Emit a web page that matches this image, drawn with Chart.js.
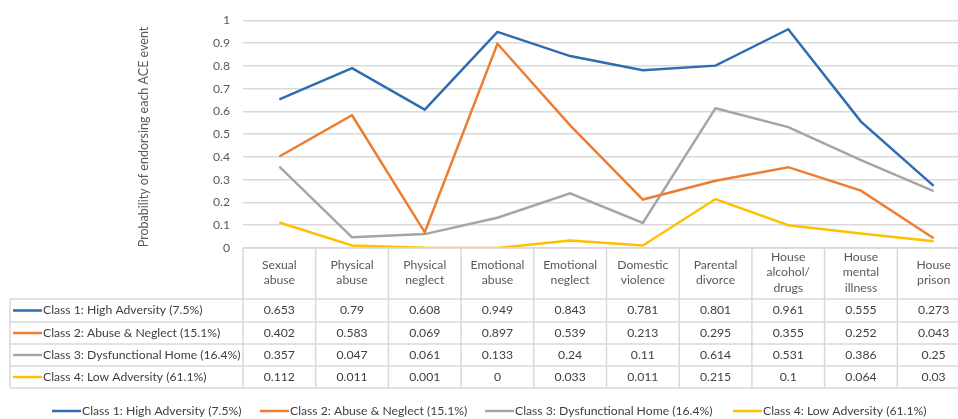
<!DOCTYPE html>
<html lang="en">
<head>
    <meta charset="UTF-8">
    <title>ACE latent classes</title>
    <style>
        * { margin: 0; padding: 0; box-sizing: border-box; }
        html, body { width: 958px; height: 419px; overflow: hidden; background: #fff; }
        #wrap { position: relative; width: 970px; height: 419px; }
        canvas { display: block; }
    </style>
</head>
<body>
    <div id="wrap"><canvas id="chart" width="970" height="419"></canvas></div>

    <script src="https://cdn.jsdelivr.net/npm/chart.js"></script>
    <script>
        // categories (header rows of the table)
        const categories = [
            ['Sexual', 'abuse'], ['Physical', 'abuse'], ['Physical', 'neglect'],
            ['Emotional', 'abuse'], ['Emotional', 'neglect'], ['Domestic', 'violence'],
            ['Parental', 'divorce'], ['House', 'alcohol/', 'drugs'], ['House', 'mental', 'illness'],
            ['House', 'prison']
        ];
        const seriesNames = [
            'Class 1: High Adversity (7.5%)',
            'Class 2: Abuse & Neglect (15.1%)',
            'Class 3: Dysfunctional Home (16.4%)',
            'Class 4: Low Adversity (61.1%)'
        ];
        const class1 = [0.653, 0.79, 0.608, 0.949, 0.843, 0.781, 0.801, 0.961, 0.555, 0.273];
        const class2 = [0.402, 0.583, 0.069, 0.897, 0.539, 0.213, 0.295, 0.355, 0.252, 0.043];
        const class3 = [0.357, 0.047, 0.061, 0.133, 0.24, 0.11, 0.614, 0.531, 0.386, 0.25];
        const class4 = [0.112, 0.011, 0.001, 0, 0.033, 0.011, 0.215, 0.1, 0.064, 0.03];
        const yTicks = [0, 0.1, 0.2, 0.3, 0.4, 0.5, 0.6, 0.7, 0.8, 0.9, 1];
        const colors = ['#2E6DB4', '#ED7D31', '#A5A5A5', '#FFC000'];

        const allSeries = [class1, class2, class3, class4];
        const FONT = 'Lato, "Open Sans", sans-serif';
        const gridColor = '#d9d9d9';

        // data table under the plot + bottom legend
        const tablePlugin = {
            id: 'tablePlugin',
            afterDraw(chart) {
                const ctx = chart.ctx;
                const xs = chart.scales.x;
                const area = chart.chartArea;
                const top = area.bottom;
                const headBottom = 299;
                const rowH = [299, 322, 344, 366, 388];
                const step = xs.getPixelForValue(1) - xs.getPixelForValue(0);
                const left = xs.getPixelForValue(0) - step / 2;
                const right = xs.getPixelForValue(categories.length - 1) + step / 2;
                const tableLeft = 10;

                ctx.save();
                ctx.strokeStyle = gridColor;
                ctx.lineWidth = 1.5;
                ctx.beginPath();
                ctx.moveTo(left, top); ctx.lineTo(right, top);
                rowH.forEach(y => { ctx.moveTo(tableLeft, y); ctx.lineTo(right, y); });
                ctx.moveTo(tableLeft, headBottom); ctx.lineTo(tableLeft, rowH[4]);
                for (let i = 0; i <= categories.length; i++) {
                    const x = left + step * i;
                    ctx.moveTo(x, top); ctx.lineTo(x, rowH[4]);
                }
                ctx.stroke();

                ctx.font = '12.2px ' + FONT;
                ctx.textAlign = 'center';
                ctx.textBaseline = 'middle';
                ctx.fillStyle = '#595959';
                categories.forEach((lines, i) => {
                    const x = xs.getPixelForValue(i);
                    const mid = (top + headBottom) / 2 - 1;
                    const lh = 15.5;
                    lines.forEach((t, j) => {
                        ctx.fillText(t, x, mid + (j - (lines.length - 1) / 2) * lh);
                    });
                });

                allSeries.forEach((vals, r) => {
                    const yc = (rowH[r] + rowH[r + 1]) / 2;
                    ctx.textAlign = 'center';
                    ctx.fillStyle = '#404040';
                    vals.forEach((v, i) => ctx.fillText(String(v), xs.getPixelForValue(i), yc));
                    // legend key in first column
                    ctx.strokeStyle = colors[r];
                    ctx.lineWidth = 2.5;
                    ctx.beginPath();
                    ctx.moveTo(13, yc); ctx.lineTo(42, yc);
                    ctx.stroke();
                    ctx.textAlign = 'left';
                    ctx.fillStyle = '#404040';
                    ctx.fillText(seriesNames[r], 43, yc);
                });

                // bottom legend
                const legendX = [52, 260, 485, 733];
                const ly = 411;
                seriesNames.forEach((name, r) => {
                    ctx.strokeStyle = colors[r];
                    ctx.lineWidth = 2.5;
                    ctx.beginPath();
                    ctx.moveTo(legendX[r], ly); ctx.lineTo(legendX[r] + 29, ly);
                    ctx.stroke();
                    ctx.textAlign = 'left';
                    ctx.fillStyle = '#404040';
                    ctx.fillText(name, legendX[r] + 30, ly);
                });

                // y axis title
                ctx.save();
                ctx.translate(144, 137);
                ctx.rotate(-Math.PI / 2);
                ctx.textAlign = 'center';
                ctx.fillStyle = '#595959';
                ctx.font = '12.5px ' + FONT;
                ctx.fillText('Probability of endorsing each ACE event', 0, 0);
                ctx.restore();
                ctx.restore();
            }
        };

        new Chart(document.getElementById('chart'), {
            type: 'line',
            data: {
                labels: categories,
                datasets: allSeries.map((vals, i) => ({
                    label: seriesNames[i],
                    data: vals,
                    borderColor: colors[i],
                    backgroundColor: colors[i],
                    borderWidth: 2.5,
                    pointRadius: 0,
                    tension: 0
                }))
            },
            options: {
                responsive: false,
                animation: false,
                devicePixelRatio: 1,
                layout: { padding: { top: 14, right: 0, bottom: 171, left: 0 } },
                plugins: { legend: { display: false }, tooltip: { enabled: false } },
                scales: {
                    x: { display: false, offset: true },
                    y: {
                        min: 0, max: 1,
                        afterBuildTicks(scale) { scale.ticks = yTicks.map(v => ({ value: v })); },
                        afterFit(scale) { scale.width = 243; },
                        border: { display: false },
                        grid: { color: gridColor, lineWidth: 1.5, drawTicks: false },
                        ticks: {
                            padding: 13,
                            color: '#595959',
                            font: { family: FONT, size: 12.2 },
                            callback: v => String(v)
                        }
                    }
                }
            },
            plugins: [tablePlugin]
        });
    </script>
</body>
</html>
